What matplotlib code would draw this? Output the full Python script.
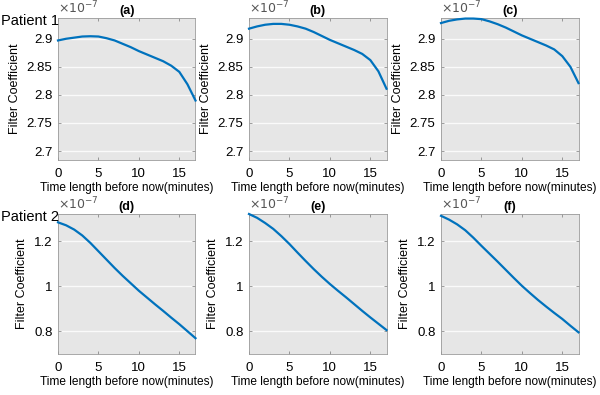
import matplotlib
matplotlib.use("Agg")
import matplotlib.pyplot as plt
from matplotlib.ticker import FuncFormatter

plt.rcParams['font.family'] = ['Liberation Sans', 'DejaVu Sans']

minutes = list(range(0, 18))

# values in units of 1e-7
coef_a = [2.897, 2.900, 2.902, 2.904, 2.9045, 2.904, 2.901, 2.897, 2.891, 2.885,
          2.878, 2.872, 2.866, 2.860, 2.852, 2.841, 2.819, 2.790]
coef_b = [2.918, 2.922, 2.925, 2.9265, 2.9265, 2.925, 2.922, 2.918, 2.912, 2.905,
          2.898, 2.892, 2.886, 2.880, 2.873, 2.862, 2.842, 2.811]
coef_c = [2.928, 2.932, 2.9345, 2.936, 2.936, 2.935, 2.931, 2.926, 2.920, 2.913,
          2.906, 2.900, 2.894, 2.888, 2.881, 2.869, 2.850, 2.821]
coef_d = [1.283, 1.270, 1.251, 1.225, 1.192, 1.155, 1.118, 1.081, 1.046, 1.013,
          0.980, 0.950, 0.920, 0.891, 0.861, 0.832, 0.801, 0.770]
coef_e = [1.320, 1.303, 1.280, 1.254, 1.222, 1.187, 1.149, 1.112, 1.076, 1.042,
          1.010, 0.980, 0.951, 0.921, 0.891, 0.862, 0.834, 0.806]
coef_f = [1.312, 1.295, 1.274, 1.248, 1.215, 1.179, 1.144, 1.109, 1.073, 1.037,
          1.002, 0.970, 0.939, 0.910, 0.882, 0.855, 0.825, 0.796]

series = [coef_a, coef_b, coef_c, coef_d, coef_e, coef_f]
panel_labels = ['(a)', '(b)', '(c)', '(d)', '(e)', '(f)']
row_labels = ['Patient 1', 'Patient 2']
x_ticks = [0, 5, 10, 15]
y_ticks_top = [2.7, 2.75, 2.8, 2.85, 2.9]
y_ticks_bottom = [0.8, 1.0, 1.2]

fig = plt.figure(figsize=(6, 3.95), dpi=100)
W, H = 600, 395
lefts = [58, 249, 441]
width = 137.5
rows = [(18, 160), (214, 354)]
ylims = [(2.684, 2.937), (0.7, 1.32)]

blue = '#0072BD'
for i, vals in enumerate(series):
    r, c = divmod(i, 3)
    top, bot = rows[r]
    ax = fig.add_axes([lefts[c] / W, (H - bot) / H, width / W, (bot - top) / H])
    ax.set_facecolor('#e6e6e6')
    ax.plot(minutes, vals, color=blue, lw=1.6, clip_on=False, zorder=3)
    ax.set_xlim(0, 17)
    ax.set_ylim(*ylims[r])
    ax.set_xticks(x_ticks)
    ax.set_yticks(y_ticks_top if r == 0 else y_ticks_bottom)
    ax.yaxis.set_major_formatter(FuncFormatter(lambda v, p: f'{v:g}'))
    ax.grid(axis='y', color='#fafafa', lw=1.0)
    ax.set_axisbelow(True)
    for s in ax.spines.values():
        s.set_color('#9a9a9a')
        s.set_linewidth(0.6)
    ax.tick_params(direction='in', length=2.5, width=0.5, color='#777777',
                   top=True, right=True, labelsize=9.5, pad=4)
    ax.tick_params(axis='x', pad=5.5)
    ax.set_xlabel('Time length before now(minutes)', fontsize=8.6, labelpad=1.5)
    ax.set_ylabel('Filter Coefficient', fontsize=9.0, labelpad=4)
    ax.set_title(panel_labels[i], fontsize=9, fontweight='bold', pad=3)
    ax.text(0.0, 1.01, r'$\times10^{-7}$', transform=ax.transAxes,
            fontsize=9, color='#555555', ha='left', va='bottom')

for r, lab in enumerate(row_labels):
    top, bot = rows[r]
    fig.text(1 / W, (H - top - 3) / H, lab, fontsize=10.5, ha='left', va='center')

fig.savefig('out.png', dpi=100)
